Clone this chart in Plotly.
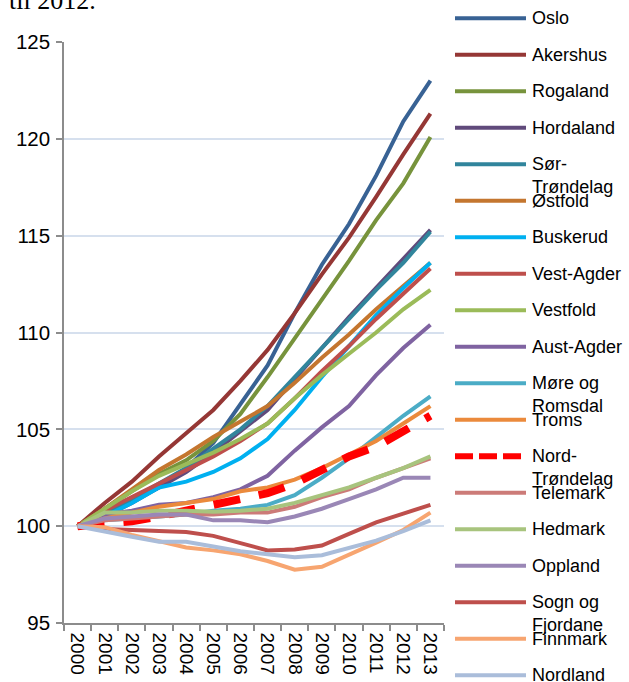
import plotly.graph_objects as go

# Index (2000 = 100) per county, 2000-2013
years = [str(y) for y in range(2000, 2014)]

oslo          = [100, 100.5, 101.2, 102.0, 103.0, 104.3, 106.3, 108.3, 111.0, 113.5, 115.6, 118.1, 120.9, 123.0]
akershus      = [100, 101.2, 102.3, 103.6, 104.8, 106.0, 107.5, 109.1, 111.0, 113.0, 114.9, 117.0, 119.2, 121.3]
rogaland      = [100, 100.9, 101.8, 102.7, 103.4, 104.4, 105.8, 107.7, 109.7, 111.7, 113.7, 115.8, 117.7, 120.1]
hordaland     = [100, 100.6, 101.3, 102.0, 102.8, 103.8, 104.9, 106.0, 107.6, 109.2, 110.8, 112.3, 113.8, 115.3]
sor_trondelag = [100, 100.7, 101.4, 102.2, 103.0, 104.0, 105.0, 106.2, 107.7, 109.2, 110.7, 112.2, 113.6, 115.2]
ostfold       = [100, 100.9, 101.9, 102.9, 103.7, 104.6, 105.4, 106.2, 107.4, 108.7, 109.9, 111.2, 112.4, 113.6]
buskerud      = [100, 100.5, 101.2, 102.0, 102.3, 102.8, 103.5, 104.5, 106.0, 107.7, 109.3, 110.9, 112.3, 113.6]
vest_agder    = [100, 100.8, 101.5, 102.2, 102.9, 103.6, 104.4, 105.3, 106.6, 108.0, 109.3, 110.7, 112.0, 113.3]
vestfold      = [100, 100.9, 101.8, 102.6, 103.2, 103.8, 104.5, 105.3, 106.6, 107.8, 108.9, 110.0, 111.2, 112.2]
aust_agder    = [100, 100.6, 100.8, 101.1, 101.2, 101.5, 101.9, 102.6, 103.9, 105.1, 106.2, 107.8, 109.2, 110.4]
more_romsdal  = [100, 100.3, 100.4, 100.5, 100.6, 100.8, 100.9, 101.1, 101.6, 102.5, 103.5, 104.6, 105.7, 106.7]
troms         = [100, 100.4, 100.7, 101.0, 101.2, 101.4, 101.8, 102.0, 102.4, 103.0, 103.7, 104.4, 105.3, 106.2]
nord_trondelag = [100, 100.1, 100.25, 100.5, 100.8, 101.1, 101.4, 101.7, 102.2, 102.9, 103.6, 104.1, 104.9, 105.7]
telemark      = [100, 100.3, 100.4, 100.5, 100.6, 100.6, 100.7, 100.7, 101.0, 101.5, 101.9, 102.5, 103.0, 103.5]
hedmark       = [100, 100.7, 100.7, 100.8, 100.8, 100.75, 100.8, 100.9, 101.2, 101.6, 102.0, 102.5, 103.0, 103.6]
oppland       = [100, 100.4, 100.5, 100.6, 100.6, 100.3, 100.3, 100.2, 100.5, 100.9, 101.4, 101.9, 102.5, 102.5]
sogn_fjordane = [100, 99.85, 99.8, 99.75, 99.7, 99.5, 99.15, 98.75, 98.8, 99.0, 99.6, 100.2, 100.65, 101.1]
finnmark      = [100, 99.95, 99.55, 99.2, 98.9, 98.75, 98.55, 98.2, 97.75, 97.9, 98.5, 99.15, 99.8, 100.7]
nordland      = [100, 99.7, 99.45, 99.2, 99.2, 98.95, 98.7, 98.55, 98.4, 98.5, 98.85, 99.25, 99.75, 100.3]

names = ["Oslo", "Akershus", "Rogaland", "Hordaland", "Sør-Trøndelag", "Østfold",
         "Buskerud", "Vest-Agder", "Vestfold", "Aust-Agder", "Møre og Romsdal",
         "Troms", "Nord-Trøndelag", "Telemark", "Hedmark", "Oppland",
         "Sogn og Fjordane", "Finnmark", "Nordland"]
legend_labels = ["Oslo", "Akershus", "Rogaland", "Hordaland", "Sør-<br>Trøndelag", "Østfold",
                 "Buskerud", "Vest-Agder", "Vestfold", "Aust-Agder", "Møre og<br>Romsdal",
                 "Troms", "Nord-<br>Trøndelag", "Telemark", "Hedmark", "Oppland",
                 "Sogn og<br>Fjordane", "Finnmark", "Nordland"]
values = [oslo, akershus, rogaland, hordaland, sor_trondelag, ostfold, buskerud,
          vest_agder, vestfold, aust_agder, more_romsdal, troms, nord_trondelag,
          telemark, hedmark, oppland, sogn_fjordane, finnmark, nordland]
colors = ["#386294", "#953735", "#77933C", "#604A7B", "#31859C", "#C4762F",
          "#00B0F0", "#BE4F4C", "#9BBB59", "#7F63A1", "#4BACC6", "#EB8A3C",
          "#FF0000", "#CC7B78", "#A8C47E", "#9A87B6", "#BE4F4C", "#F7A570", "#AABDDA"]
highlight = "Nord-Trøndelag"

# Figure geometry (pixels)
W, H = 629, 682
L, R, T, B = 64, 185, 42, 59
PW, PH = W - L - R, H - T - B


def px_x(px):
    return (px - L) / PW


def px_y(py):
    return (H - B - py) / PH


fig = go.Figure()
for name, vals, col in zip(names, values, colors):
    if name == highlight:
        line = dict(color=col, width=8, dash="27px,19px")
    else:
        line = dict(color=col, width=4)
    fig.add_trace(go.Scatter(x=years, y=vals, mode="lines", name=name,
                             line=line, showlegend=False))

# Hand-built legend on the right
shapes = []
annotations = []
row0, row_step = 18.3, 36.5
for i, (label, col, name) in enumerate(zip(legend_labels, colors, names)):
    yy = row0 + row_step * i
    if name == highlight:
        ln = dict(color=col, width=6, dash="18px,6px")
    else:
        ln = dict(color=col, width=4)
    shapes.append(dict(type="line", xref="paper", yref="paper",
                       x0=px_x(455), x1=px_x(526), y0=px_y(yy), y1=px_y(yy), line=ln))
    annotations.append(dict(text=label, xref="paper", yref="paper",
                            x=px_x(530), y=px_y(yy - 12), xanchor="left", yanchor="top",
                            align="left", showarrow=False,
                            font=dict(family="Liberation Sans, Arial", size=18, color="#000000")))

# Tail of the sentence above the chart
annotations.append(dict(text="til 2012.", xref="paper", yref="paper",
                        x=px_x(7), y=px_y(17), xanchor="left", yanchor="bottom",
                        showarrow=False,
                        font=dict(family="Liberation Serif, Times New Roman", size=26, color="#000000")))

fig.update_layout(
    width=W, height=H,
    margin=dict(l=L, r=R, t=T, b=B, autoexpand=False),
    paper_bgcolor="white", plot_bgcolor="white",
    shapes=shapes, annotations=annotations,
    font=dict(family="Liberation Sans, Arial", color="#000000"),
)
fig.update_xaxes(
    type="category", range=[-0.5, 13.5], tickson="boundaries",
    ticks="outside", ticklen=6, tickcolor="#8C8C8C", tickwidth=1.5,
    showline=True, linecolor="#8C8C8C", linewidth=1.5,
    showgrid=False, tickangle=90, tickfont=dict(size=19),
    ticklabelstandoff=4, automargin=False,
)
fig.update_yaxes(
    range=[95, 125], dtick=5, tick0=95,
    ticks="outside", ticklen=6, tickcolor="#8C8C8C", tickwidth=1.5,
    showline=True, linecolor="#8C8C8C", linewidth=1.5,
    showgrid=True, gridcolor="#D6E0EE", gridwidth=1.5, zeroline=False,
    tickfont=dict(size=20.5), ticklabelstandoff=2, automargin=False,
)

fig.write_html("out.html")
